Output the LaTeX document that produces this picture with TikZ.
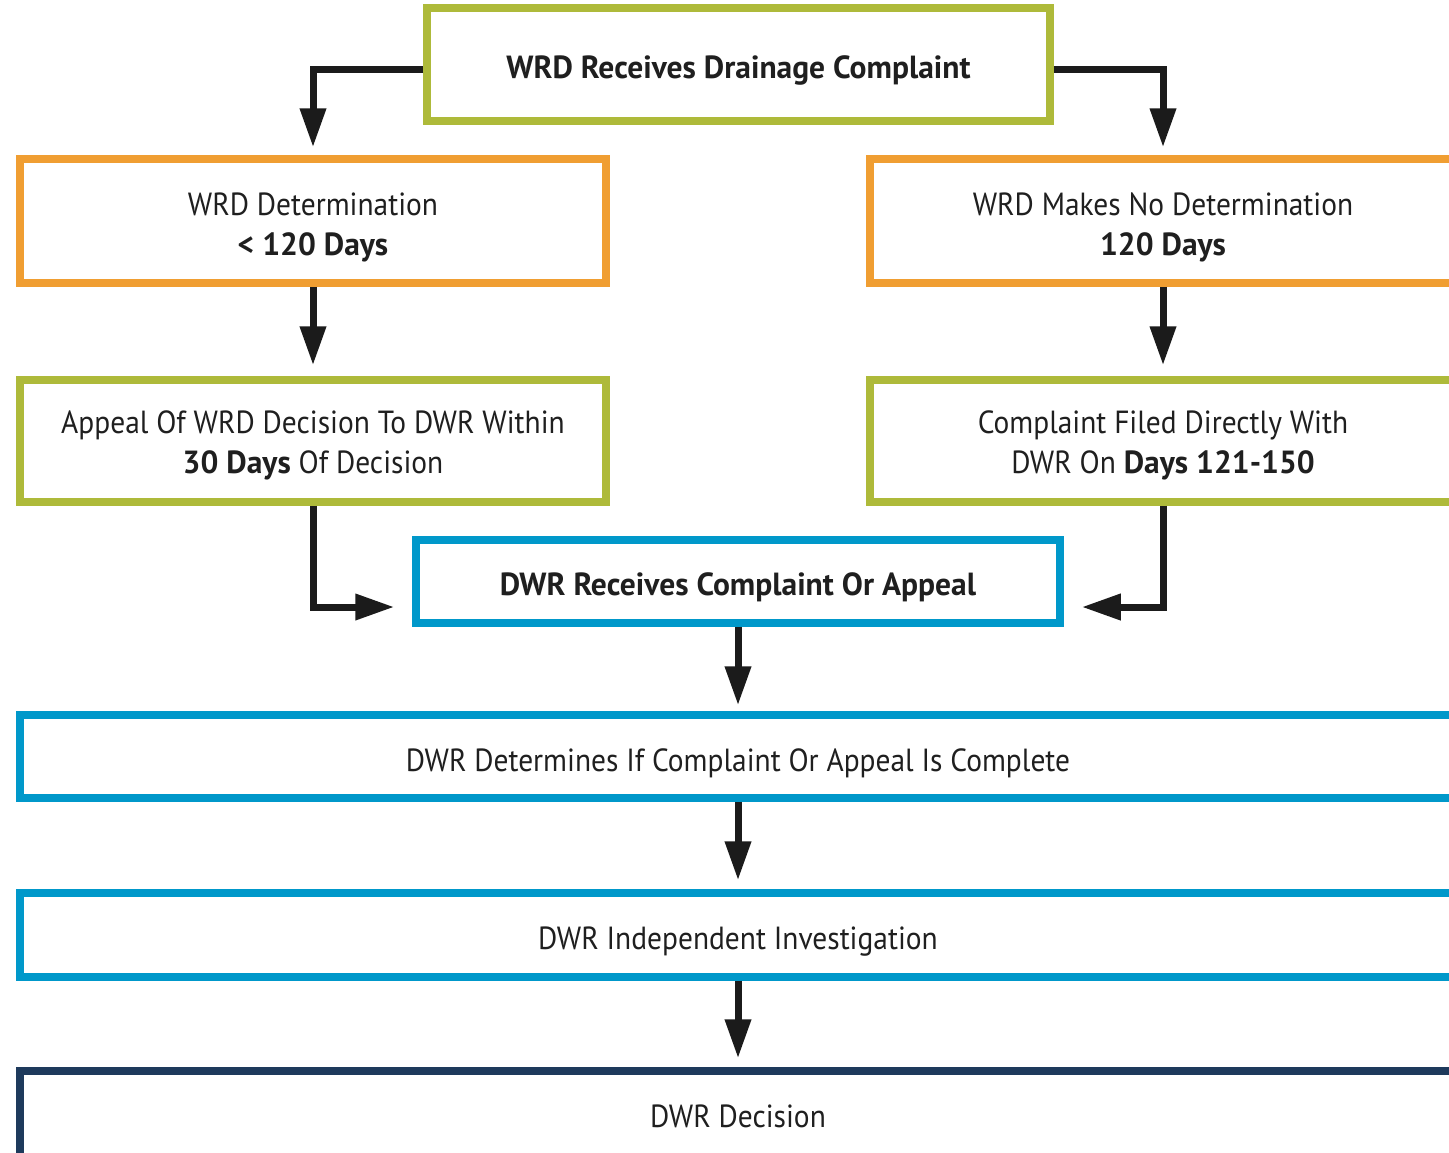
\documentclass[tikz,border=0pt]{standalone}
\usepackage{fontspec}
\setmainfont{PT Sans}[FakeStretch=0.92, BoldFeatures={FakeStretch=0.985}]
\usetikzlibrary{arrows.meta,calc}
\definecolor{cgreen}{HTML}{AEBA3A}
\definecolor{corange}{HTML}{F09E32}
\definecolor{cblue}{HTML}{0098CA}
\definecolor{cnavy}{HTML}{1E3A5C}
\definecolor{carrow}{HTML}{1B1B1B}
\tikzset{
  box/.style={draw, line width=3.75pt, inner sep=0pt},
  txt/.style={align=center, inner sep=0pt,
    font=\fontsize{16}{20}\selectfont, text=black!88},
  arr/.style={draw=carrow, line width=3.5pt,
    -{Triangle[length=19.5pt,width=12.5pt]}},
}
\begin{document}
\begin{tikzpicture}[x=0.5pt,y=-0.5pt]
\useasboundingbox (0,0) rectangle (1449,1152);
\clip (0,0) rectangle (1449,1152);
\fill[white] (0,0) rectangle (1449,1152);

\node[box, draw=cgreen, minimum width=311.5pt, minimum height=56.5pt] (top) at (738.5,64.5) {};
\node[txt] (topt) at ([yshift=-3pt]top.center) {\textbf{WRD Receives Drainage Complaint}};

\node[box, draw=corange, minimum width=293pt, minimum height=62pt] (o1) at (313,221) {};
\node[txt] (o1t) at ([yshift=-3pt]o1.center) {WRD Determination\\\textbf{< 120 Days}};
\node[box, draw=corange, minimum width=293pt, minimum height=62pt] (o2) at (1163,221) {};
\node[txt] (o2t) at ([yshift=-3pt]o2.center) {WRD Makes No Determination\\\textbf{120 Days}};

\node[box, draw=cgreen, minimum width=293pt, minimum height=61pt] (g1) at (313,441) {};
\node[txt] (g1t) at ([yshift=-2pt]g1.center) {Appeal Of WRD Decision To DWR Within\\\textbf{30 Days} Of Decision};
\node[box, draw=cgreen, minimum width=293pt, minimum height=61pt] (g2) at (1163,441) {};
\node[txt] (g2t) at ([yshift=-2pt]g2.center) {Complaint Filed Directly With\\DWR On \textbf{Days 121-150}};

\node[box, draw=cblue, minimum width=322pt, minimum height=41.5pt] (b1) at (738,581.5) {};
\node[txt] (b1t) at ([yshift=-3pt]b1.center) {\textbf{DWR Receives Complaint Or Appeal}};

\node[box, draw=cblue, minimum width=718pt, minimum height=41.5pt] (w1) at (738,756.5) {};
\node[txt] (w1t) at ([yshift=-3.5pt]w1.center) {DWR Determines If Complaint Or Appeal Is Complete};
\node[box, draw=cblue, minimum width=718pt, minimum height=42pt] (w2) at (738,935) {};
\node[txt] (w2t) at ([yshift=-3.5pt]w2.center) {DWR Independent Investigation};
\node[box, draw=cnavy, minimum width=718pt, minimum height=45pt] (w3) at (738,1116) {};
\node[txt] (w3t) at (w3.center) {DWR Decision};

\coordinate (tl) at ([yshift=-2.25pt]top.west);
\coordinate (tr) at ([yshift=-2.25pt]top.east);
\coordinate (bl) at ([yshift=-12.75pt]b1.west);
\coordinate (br) at ([yshift=-12.75pt]b1.east);

\draw[arr, shorten >=4pt] (tl) -| (o1.north);
\draw[arr, shorten >=4pt] (tr) -| (o2.north);
\draw[arr, shorten >=5.5pt] (o1.south) -- (g1.north);
\draw[arr, shorten >=5.5pt] (o2.south) -- (g2.north);
\draw[arr, shorten >=9pt] (g1.south) |- (bl);
\draw[arr, shorten >=9pt] (g2.south) |- (br);
\draw[arr, shorten >=3pt] (b1.south) -- (w1.north);
\draw[arr, shorten >=4.5pt] (w1.south) -- (w2.north);
\draw[arr, shorten >=4.5pt] (w2.south) -- (w3.north);
\end{tikzpicture}
\end{document}
